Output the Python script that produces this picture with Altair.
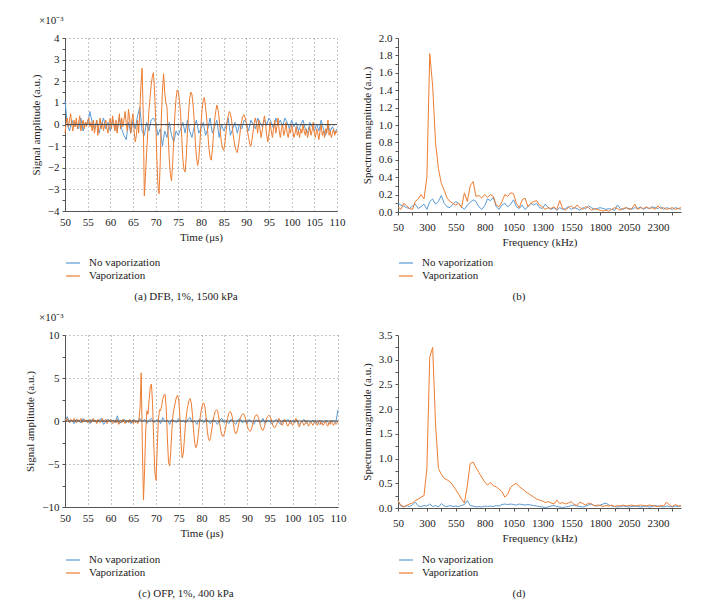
import altair as alt
import numpy as np
import pandas as pd

FONT = "Liberation Serif"
BLUE = "#5b9bd5"
ORANGE = "#ed7d31"
SERIES = ["No vaporization", "Vaporization"]

TIME_RANGE = [50, 110]
FREQ_RANGE = [50, 2500]

# ---------------- (a) DFB, 1%, 1500 kPa : time signal (x 1e-3) ----------------
a_blue = [1.1, 0.0, -0.3, 0.2, -0.1, 0.1, -0.2, 0.3, -0.3, 0.1, 0.0,
          0.6, 0.1, -0.2, 0.2, -0.4, 0.0, 0.3, -0.2, 0.1, -0.3,
          0.2, -0.1, -0.3, 0.3, -0.2, -0.5, -0.7, 0.1, -0.4, 0.2,
          -0.2, 0.4, 0.8, -0.3, -0.5, 0.1, -0.3, 0.2, 0.3, 0.1,
          -0.5, -0.2, -1.0, -0.3, -0.6, 0.1, -0.5, -0.8, -0.3, -0.5,
          -0.2, 0.1, -0.4, 0.2, -0.3, -0.6, -0.1, 0.2, -0.4, -0.2,
          0.1, -0.5, -0.2, 0.3, -0.4, -0.1, 0.2, -0.6, 0.0, -0.3,
          -0.1, 0.3, -0.5, -0.2, 0.1, -0.4, 0.0, -0.2, 0.2, 0.1,
          -0.3, 0.2, 0.0, -0.2, 0.3, 0.1, -0.1, 0.2, 0.0, 0.3,
          0.1, -0.2, 0.3, 0.0, 0.2, -0.1, 0.3, 0.1, -0.2, 0.2,
          -0.1, 0.1, -0.3, 0.0, 0.2, -0.2, -0.4, 0.1, -0.1, -0.3,
          0.0, -0.3, 0.2, -0.2, -0.5, 0.0, -0.3, -0.1, -0.4, -0.2]

a_orange = [-0.4, 0.1, 0.3, -0.1, 0.2, 0.5, 0.0, -0.3, 0.2, -0.1, 0.3, -0.2, 0.1, 0.4, -0.3, 0.0, 0.2, -0.2, 0.1, -0.1, 0.2,
            0.3, -0.1, 0.1, -0.3, 0.2, -0.4, -0.1, 0.2, -0.5, 0.0, 0.3, -0.2, 0.1, -0.3, 0.0, 0.2, -0.2, -0.4, 0.1, 0.3,
            -0.2, 0.4, 0.0, -0.3, 0.2, -0.4, 0.1, 0.5, -0.2, 0.3, -0.1, 0.2, 0.6, 0.1, -0.3, 0.7, 0.3, -0.4, 0.2, 0.5,
            -0.3, -0.8, -0.5, 0.2, -0.4, 0.6, 1.8,
            2.6, 0.5, -3.3, -2.4, -1.3, -0.4, 0.6, 1.2, 1.8, 2.2, 2.4, 1.6, 0.2, -1.5, -2.8, -3.2,
            -1.8, 0.3, 1.6, 2.35, 1.5, 1.0, 0.8, -0.5, -1.6, -2.3, -2.6, -1.8, -0.6, 0.5, 1.2, 1.6,
            1.5, 1.1, 0.5, -0.6, -1.6, -2.1, -2.2, -1.5, -0.4, 0.5, 1.2, 1.5, 1.4, 0.9, 0.2, -0.8,
            -1.5, -1.9, -1.6, -0.9, 0.0, 0.7, 1.15, 1.25, 0.8, 0.3, -0.4, -1.1, -1.5, -1.65, -1.2, -0.5,
            0.2, 0.6, 0.9, 0.7, 0.3, -0.3, -0.8, -1.1, -1.2, -0.9, -0.4, 0.1, 0.4, 0.6, 0.5, 0.2,
            -0.3, -0.7, -1.0, -1.2, -1.3, -1.0, -0.6, -0.1, 0.2, 0.4, 0.45, 0.3, 0.1, -0.3, -0.6, -0.9,
            -1.0, -0.7, -0.3, 0.1, 0.3,
            0.0, -0.4, 0.2, -0.2, -0.6, -0.3, 0.1, 0.4, 0.0, -0.5, -0.8, -0.4,
            0.1, -0.3, -0.6, -0.2, 0.2, -0.4, -0.1, 0.3, -0.3, -0.6, -0.2, 0.0, -0.5, -0.3, 0.1, -0.4, -0.6, -0.2, -0.4, 0.0,
            -0.3, -0.6, -0.4, -0.1, -0.5, -0.3, -0.6, -0.2, -0.4, 0.0, -0.3, -0.5, -0.2, -0.6, -0.4, -0.1, -0.5, -0.3, 0.1, -0.4,
            -0.6, -0.2, -0.4, -0.7, -0.3, 0.0, -0.5, -0.3, -0.6, -0.2, -0.4, 0.2, -0.5, -0.3, -0.6, -0.4, -0.2, -0.5, -0.3, -0.4]

# ---------------- (b) spectrum of (a) ----------------
b_blue = [0.10, 0.08, 0.07, 0.05, 0.04, 0.07, 0.09, 0.04, 0.06, 0.09, 0.03, 0.12, 0.15, 0.09, 0.12, 0.19, 0.10,
          0.06, 0.05, 0.09, 0.12, 0.10, 0.06, 0.03, 0.08, 0.11, 0.14, 0.12, 0.06, 0.03, 0.07, 0.15, 0.13, 0.17,
          0.06, 0.03, 0.08, 0.10, 0.06, 0.09, 0.14, 0.06, 0.04, 0.08, 0.03, 0.06, 0.10, 0.08, 0.10, 0.05, 0.04,
          0.09, 0.05, 0.03, 0.05, 0.02, 0.05, 0.03, 0.04, 0.06, 0.03, 0.05, 0.04, 0.02, 0.05, 0.04, 0.07, 0.05,
          0.03, 0.04, 0.05, 0.04, 0.03, 0.04, 0.03, 0.02, 0.08, 0.04, 0.03, 0.05, 0.04, 0.03, 0.05, 0.04, 0.06,
          0.03, 0.05, 0.04, 0.06, 0.05, 0.04, 0.06, 0.03, 0.05, 0.04, 0.03, 0.05, 0.04, 0.03]

b_orange = [0.06, 0.03, 0.10, 0.07, 0.04, 0.03, 0.12, 0.15, 0.20, 0.15, 0.40, 1.82, 1.45, 0.80, 0.50, 0.33, 0.25,
            0.16, 0.12, 0.10, 0.08, 0.10, 0.05, 0.22, 0.12, 0.30, 0.35, 0.18, 0.19, 0.16, 0.20, 0.17, 0.20, 0.18,
            0.08, 0.06, 0.12, 0.20, 0.18, 0.22, 0.21, 0.10, 0.05, 0.14, 0.16, 0.06, 0.10, 0.12, 0.13, 0.08, 0.06,
            0.03, 0.05, 0.04, 0.06, 0.03, 0.13, 0.04, 0.02, 0.05, 0.07, 0.04, 0.08, 0.05, 0.03, 0.06, 0.05, 0.02,
            0.04, 0.03, 0.02, 0.01, 0.02, 0.01, 0.03, 0.05, 0.04, 0.02, 0.04, 0.05, 0.03, 0.04, 0.09, 0.03, 0.05,
            0.04, 0.06, 0.04, 0.05, 0.03, 0.07, 0.04, 0.05, 0.03, 0.04, 0.05, 0.03, 0.04, 0.05]

# ---------------- (c) OFP, 1%, 400 kPa : time signal (x 1e-3) ----------------
c_blue = [0.0, 0.5, -0.2, 0.1, -0.3, 0.2, 0.0, -0.2, 0.3, -0.1, 0.1,
          -0.3, 0.2, 0.0, -0.2, 0.1, 0.3, -0.4, 0.0, 0.2, -0.1,
          0.1, -0.2, 0.6, -0.3, 0.0, 0.2, -0.2, 0.1, -0.3, 0.2,
          0.0, -0.2, 0.3, -0.1, 0.2, -0.3, 0.1, 0.3, -0.2, 0.0,
          0.2, -0.3, 0.4, -0.1, 0.1, -0.4, 0.2, 0.0, -0.2, 0.3,
          -0.1, 0.1, -0.3, 0.2, 0.4, -0.2, 0.0, -0.4, 0.2, 0.1,
          -0.2, 0.3, -0.1, -0.3, 0.2, 0.0, -0.4, 0.1, 0.3, -0.2,
          0.0, -0.3, 0.2, -0.1, -0.4, 0.1, 0.3, -0.2, 0.0, -0.3,
          0.2, -0.1, -0.4, 0.1, 0.0, -0.2, 0.3, -0.3, 0.1, -0.1,
          -0.3, 0.0, 0.2, -0.2, -0.4, 0.1, -0.1, 0.2, -0.3, 0.0,
          -0.2, 0.1, -0.4, -0.1, 0.2, -0.3, 0.0, -0.2, 0.1, -0.3,
          -0.1, -0.4, 0.0, -0.2, 0.1, -0.3, -0.1, 0.0, -0.2, 1.3]

c_orange = [0.2, -0.1, 0.3, 0.0, -0.2, 0.2, 0.1, -0.1, 0.3, 0.0, -0.2, 0.2, -0.1, 0.1, 0.3, -0.2, 0.0, 0.2, -0.1, 0.1, -0.2,
            0.1, 0.2, -0.2, 0.0, 0.3, -0.1, 0.1, -0.3, 0.2, 0.0, -0.2, 0.1, 0.3, -0.1, 0.0, 0.2, -0.3, 0.1, -0.1, 0.2,
            -0.1, -0.3, 0.1, 0.0, -0.2, 0.2, -0.4, 0.0, 0.1, -0.2, 0.2, -0.1, -0.3, 0.1, 0.0, -0.2, 0.2, -0.1, 0.0, -0.3,
            0.1, -0.2, 0.0, -0.3, 0.2, 1.5,
            5.6, -3.0, -9.2, -5.5, -1.0, 1.2, 0.8, 2.5, 4.0, 4.3, 2.0, -2.5, -6.0, -6.9, -3.5, 0.0,
            1.3, 1.2, 1.8, 2.6, 3.0, 3.1, 1.5, -2.0, -4.8, -5.2, -3.5, -1.0, 0.8, 1.5, 2.2, 2.8,
            3.0, 2.4, 0.5, -2.5, -4.3, -3.8, -2.0, -0.2, 1.0, 1.8, 2.4, 2.6, 2.1, 0.8, -1.0, -2.5,
            -3.1, -2.8, -1.8, -0.5, 0.6, 1.4, 2.0, 2.1, 1.6, 0.5, -1.0, -2.0, -2.3, -1.9, -1.0, -0.1,
            0.6, 1.1, 1.3, 1.2, 0.6, -0.3, -1.1, -1.7, -1.8, -1.5, -0.9, -0.2, 0.4, 0.9, 1.1, 1.0,
            0.5, -0.3, -1.1, -1.5, -1.3, -0.8, -0.2, 0.3, 0.6, 0.8, 0.85, 0.6, 0.1, -0.5, -0.9, -1.1,
            -1.2, -0.9, -0.4, 0.1, 0.5, 0.7, 0.7, 0.4, -0.1, -0.6, -1.0, -1.1, -0.8, -0.3, 0.2, 0.5,
            0.65, 0.6, 0.3, -0.2, -0.6, -0.8, -0.7, -0.4, 0.0, 0.3,
            0.1, -0.3, -0.5, -0.2, 0.2, 0.0, -0.4, -0.6, -0.3, 0.1, -0.2, -0.5,
            -0.3, 0.0, 0.3, 0.1, -0.4, -0.7, -0.3, 0.0, -0.2, -0.5, -0.3, 0.1, -0.2, -0.6, -0.4, -0.1, -0.3, -0.5, -0.2, 0.0,
            -0.3, -0.5, -0.1, 0.1, -0.4, -0.2, -0.5, -0.3, 0.0, -0.4, -0.6, -0.2, -0.4, 0.1, -0.3, -0.5, -0.2, -0.4, -0.3, 0.0]

# ---------------- (d) spectrum of (c) ----------------
d_blue = [0.15, 0.04, 0.02, 0.05, 0.03, 0.06, 0.12, 0.04, 0.03, 0.05, 0.04, 0.08, 0.03, 0.05, 0.02, 0.09, 0.04,
          0.03, 0.05, 0.03, 0.04, 0.03, 0.05, 0.07, 0.15, 0.05, 0.04, 0.02, 0.03, 0.02, 0.04, 0.03, 0.04, 0.03,
          0.05, 0.04, 0.07, 0.08, 0.07, 0.08, 0.07, 0.06, 0.08, 0.07, 0.06, 0.07, 0.06, 0.05, 0.04, 0.03, 0.02,
          0.01, 0.02, 0.04, 0.05, 0.03, 0.02, 0.01, 0.02, 0.03, 0.05, 0.06, 0.04, 0.03, 0.02, 0.04, 0.06, 0.08,
          0.05, 0.04, 0.06, 0.08, 0.10, 0.06, 0.04, 0.03, 0.02, 0.03, 0.04, 0.03, 0.02, 0.03, 0.04, 0.03, 0.02,
          0.03, 0.04, 0.02, 0.03, 0.05, 0.04, 0.03, 0.02, 0.04, 0.03, 0.02, 0.04, 0.03, 0.04]

d_orange = [0.15, 0.05, 0.03, 0.05, 0.08, 0.10, 0.15, 0.18, 0.22, 0.25, 0.80, 3.05, 3.25, 1.70, 0.80, 0.68, 0.60,
            0.57, 0.53, 0.46, 0.37, 0.28, 0.18, 0.10, 0.45, 0.90, 0.93, 0.82, 0.72, 0.62, 0.53, 0.46, 0.52, 0.45,
            0.43, 0.38, 0.33, 0.22, 0.28, 0.42, 0.47, 0.50, 0.43, 0.39, 0.34, 0.30, 0.26, 0.22, 0.18, 0.16, 0.14,
            0.11, 0.13, 0.10, 0.08, 0.16, 0.09, 0.11, 0.08, 0.10, 0.13, 0.07, 0.05, 0.12, 0.09, 0.06, 0.10, 0.08,
            0.04, 0.06, 0.05, 0.03, 0.05, 0.04, 0.06, 0.03, 0.05, 0.04, 0.06, 0.04, 0.05, 0.06, 0.04, 0.05, 0.06,
            0.05, 0.04, 0.06, 0.05, 0.04, 0.03, 0.05, 0.04, 0.12, 0.06, 0.03, 0.07, 0.04, 0.05]


def make_df(rng, blue, orange):
    d1 = pd.DataFrame({"x": np.linspace(rng[0], rng[1], len(blue)), "y": blue, "series": SERIES[0]})
    d2 = pd.DataFrame({"x": np.linspace(rng[0], rng[1], len(orange)), "y": orange, "series": SERIES[1]})
    return pd.concat([d1, d2], ignore_index=True)


color_scale = alt.Scale(domain=SERIES, range=[BLUE, ORANGE])


def legend():
    return alt.Legend(orient="none", legendX=0, legendY=217, direction="vertical",
                      symbolType="stroke", symbolSize=196, symbolStrokeWidth=1.2,
                      labelFont=FONT, labelFontSize=11, labelColor="#222",
                      labelOffset=8, rowPadding=0, padding=0)


def panel(df, kind, ydom, ystep, lstep, fmt, ytitle, w, h, caption, mult):
    if kind == "time":
        xvals = list(range(50, 111, 5))
        xaxis = alt.Axis(values=xvals, title="Time (μs)", grid=True, gridDash=[1, 3], gridColor="#8c8c8c",
                         ticks=False, tickSize=0, labelPadding=5, titlePadding=4, format="d",
                         labelFlush=False, labelOverlap=False)
        xdom = TIME_RANGE
    else:
        xvals = list(range(50, 2501, 125))
        xaxis = alt.Axis(values=xvals, title="Frequency (kHz)", grid=False, tickSize=3, labelPadding=6,
                         titlePadding=4, labelFlush=False, labelOverlap=False,
                         labelExpr="(datum.value - 50) % 250 == 0 ? format(datum.value, 'd') : ''")
        xdom = FREQ_RANGE
    n = int(round((ydom[1] - ydom[0]) / ystep))
    yvals = [round(ydom[0] + i * ystep, 4) for i in range(n + 1)]
    is_major = f"abs(datum.value / {lstep} - round(datum.value / {lstep})) < 0.001"
    yaxis_kw = dict(values=yvals, title=ytitle, tickSize=3, labelPadding=3, titlePadding=6,
                    labelFlush=False, labelOverlap=False,
                    labelExpr=f"{is_major} ? format(datum.value, '{fmt}') : ''")
    if kind == "time":
        yaxis_kw.update(grid=True, gridDash=[1, 3], gridColor="#8c8c8c",
                        gridOpacity={"condition": {"test": f"!({is_major})", "value": 0}, "value": 1})
    else:
        yaxis_kw.update(grid=False)
    yscale = alt.Scale(domain=ydom, nice=False, zero=False)
    lines = alt.Chart(df).mark_line(strokeWidth=1.0).encode(
        x=alt.X("x:Q", scale=alt.Scale(domain=xdom, nice=False, zero=False), axis=xaxis),
        y=alt.Y("y:Q", scale=yscale, axis=alt.Axis(**yaxis_kw)),
        color=alt.Color("series:N", scale=color_scale, legend=legend(), title=None),
    )
    layers = [lines]
    if kind == "time":
        layers.append(alt.Chart(pd.DataFrame({"z": [0]})).mark_rule(color="#4d4d4d", strokeWidth=1.2)
                      .encode(y=alt.YDatum(0, scale=yscale, axis=alt.Axis(**yaxis_kw))))
    if mult:
        layers.append(alt.Chart(pd.DataFrame({"t": ["×10⁻³"]})).mark_text(
            font=FONT, fontSize=11, align="left", baseline="middle", color="#222")
            .encode(text="t:N", x=alt.value(-26), y=alt.value(-17)))
    layers.append(alt.Chart(pd.DataFrame({"t": [caption]})).mark_text(
        font=FONT, fontSize=11, align="center", baseline="middle", color="#222")
        .encode(text="t:N", x=alt.value(121), y=alt.value(259)))
    return alt.layer(*layers).properties(width=w, height=h)


pa = panel(make_df(TIME_RANGE, a_blue, a_orange), "time", [-4, 4], 0.5, 1, "d",
           "Signal amplitude (a.u.)", 272, 173, "(a)  DFB, 1%, 1500 kPa", True)
pb = panel(make_df(FREQ_RANGE, b_blue, b_orange), "freq", [0, 2.0], 0.1, 0.2, ".1f",
           "Spectrum magnitude (a.u.)", 283, 174, "(b)", False)
pc = panel(make_df(TIME_RANGE, c_blue, c_orange), "time", [-10, 10], 2.5, 5, "d",
           "Signal amplitude (a.u.)", 273, 172, "(c)  OFP, 1%, 400 kPa", True)
pd_ = panel(make_df(FREQ_RANGE, d_blue, d_orange), "freq", [0, 3.5], 0.25, 0.5, ".1f",
            "Spectrum magnitude (a.u.)", 283, 173, "(d)", False)

chart = alt.concat(pa, pb, pc, pd_, columns=2, spacing={"row": 123, "column": 60}, bounds="flush")
chart = chart.resolve_scale(x="independent", y="independent", color="independent").resolve_legend(color="independent")

chart = chart.properties(
    padding={"left": 16, "top": 7, "right": 5, "bottom": 5}
).configure_view(stroke=None).configure_axis(
    labelFont=FONT, titleFont=FONT, labelFontSize=11, titleFontSize=11, titleFontWeight="normal",
    labelColor="#222", titleColor="#222", domainColor="#555", tickColor="#555", domainWidth=1
)

chart.save("out.html", embed_options={"renderer": "svg", "actions": False})
